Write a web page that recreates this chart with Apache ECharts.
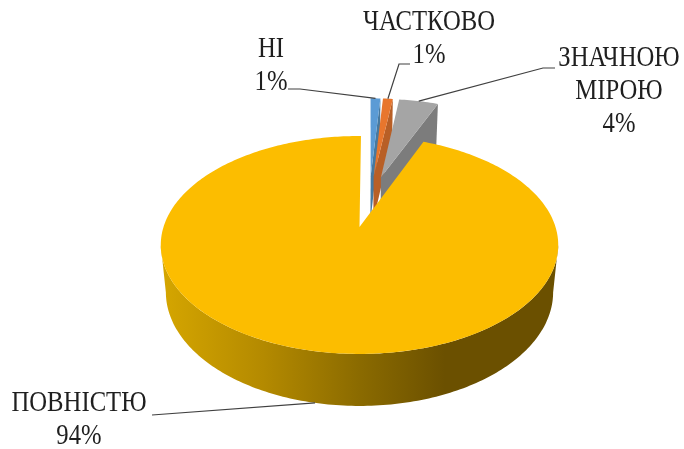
<!DOCTYPE html>
<html><head><meta charset="utf-8">
<style>html,body{margin:0;padding:0;background:#fff}#c{width:684px;height:449px}</style>
<script src="https://cdn.jsdelivr.net/npm/echarts@6/dist/echarts.min.js"></script>
</head><body><div id="c"></div>
<script>
const names = ['НІ', 'ЧАСТКОВО', 'ЗНАЧНОЮ\nМІРОЮ', 'ПОВНІСТЮ'];
const values = [1, 1, 4, 94];
const topColors = ['#5B9BD5', '#E8762D', '#A5A5A5', '#FCBD00'];
const wallColors = ['#47799F', '#B85F26', '#7C7C7C', '#6B5000'];
const labelCenters = [[271, 66], [429, 38.5], [619, 91], [79, 420]];
const leaderKnees = [[[288, 89], [300, 89]], [[410, 64], [399, 64]], [[555, 68], [543, 68]], [[152, 415]]];

// camera of the tilted, exploded pie
const X0 = 359.5, Y0 = 227, A = 196, B = 106, P = 0.165, H = 48, Q = 0.0256, EXPLODE = 0.262, START = 0.5;
const total = values.reduce((s, v) => s + v, 0);
const rad = d => d * Math.PI / 180;
function project(X, Z, low) {
  const w = 1 + P * Z + (low ? Q : 0);
  return [X0 + A * X / w, Y0 - (B * Z - (low ? H : 0)) / w];
}
const slices = [];
let acc = START;
values.forEach(v => { slices.push({ a0: acc, a1: acc + v / total * 360 }); acc += v / total * 360; });
slices.forEach(s => { s.mid = (s.a0 + s.a1) / 2; });
const big = slices[values.indexOf(Math.max(...values))];
slices.forEach(s => {
  s.ox = EXPLODE * (Math.sin(rad(s.mid)) - Math.sin(rad(big.mid)));
  s.oz = EXPLODE * (Math.cos(rad(s.mid)) - Math.cos(rad(big.mid)));
});
const rim = (s, a, low) => project(s.ox + Math.sin(rad(a)), s.oz + Math.cos(rad(a)), low);
function arc(s, from, to, low) {
  const n = Math.max(2, Math.ceil(Math.abs(to - from)));
  const pts = [];
  for (let i = 0; i <= n; i++) pts.push(rim(s, from + (to - from) * i / n, low));
  return pts;
}

function renderItem(params, api) {
  const i = params.dataIndex, s = slices[i], children = [];
  const apex = project(s.ox, s.oz, false), apexLow = project(s.ox, s.oz, true);
  if (s === big) {
    // outer wall between the two silhouette points of the rim
    const side = Math.acos(-P) * 180 / Math.PI;
    const wall = arc(s, side, 360 - side, false).concat(arc(s, side, 360 - side, true).reverse());
    children.push({ type: 'polygon', shape: { points: wall }, style: { fill:
      new echarts.graphic.LinearGradient(165, 0, 445, 0, [
        { offset: 0, color: '#D4A500' }, { offset: 0.35, color: '#B48A00' },
        { offset: 0.7, color: '#8A6A00' }, { offset: 1, color: '#6B5000' }], true) } });
  } else {
    const e = rim(s, s.a1, false), eLow = rim(s, s.a1, true);
    children.push({ type: 'polygon', shape: { points: [apex, e, eLow, apexLow] }, style: { fill: wallColors[i] } });
  }
  children.push({ type: 'polygon', shape: { points: [apex].concat(arc(s, s.a0, s.a1, false)) }, style: { fill: topColors[i] } });
  return { type: 'group', children };
}
function renderLabels(params, api) {
  const i = params.dataIndex, s = slices[i];
  const end = rim(s, s.mid, s === big);
  const pct = Math.round(values[i] / total * 100) + '%';
  return { type: 'group', children: [
    { type: 'polyline', shape: { points: leaderKnees[i].concat([end]) }, style: { stroke: '#404040', lineWidth: 1.2, fill: null } },
    { type: 'text', x: labelCenters[i][0], y: labelCenters[i][1], scaleX: 1, scaleY: 1.2,
      style: { text: names[i] + '\n' + pct, x: 0, y: 0, align: 'center', verticalAlign: 'middle',
        font: '24.7px "Liberation Serif"', lineHeight: 27.5, fill: '#1f1f1f' } }
  ] };
}
const chart = echarts.init(document.getElementById('c'), null, { renderer: 'canvas' });
chart.setOption({
  animation: false,
  backgroundColor: '#fff',
  series: [
    { type: 'custom', coordinateSystem: 'none', silent: true, renderItem, data: values, z: 1 },
    { type: 'custom', coordinateSystem: 'none', silent: true, renderItem: renderLabels, data: values, z: 2 }
  ]
});
</script></body></html>
